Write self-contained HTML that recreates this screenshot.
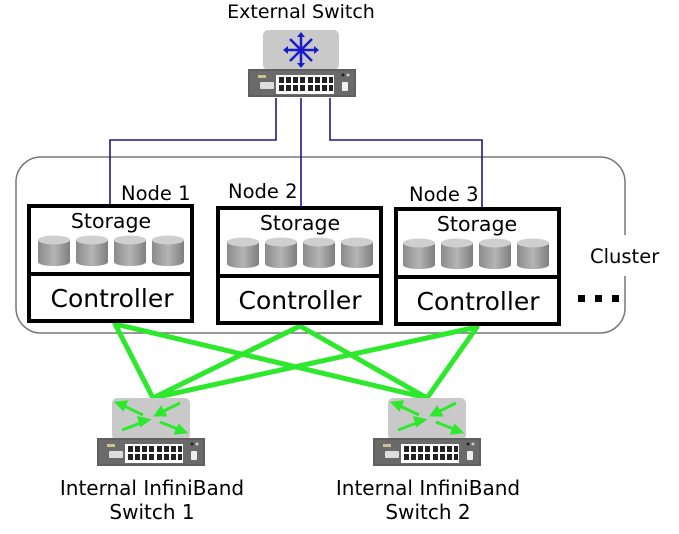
<!DOCTYPE html>
<html><head><style>
body{margin:0;background:#fff;}
svg text{font-family:"DejaVu Sans","Liberation Sans",sans-serif;fill:#000;}
</style></head><body>
<svg width="679" height="529" viewBox="0 0 679 529" xmlns="http://www.w3.org/2000/svg">
<defs>
<linearGradient id="cyl" x1="0" x2="1">
<stop offset="0" stop-color="#8a8a8a"/><stop offset="0.5" stop-color="#b5b5b5"/><stop offset="1" stop-color="#7e7e7e"/>
</linearGradient>
<g id="cy">
<path d="M0 5 V27 A16 4 0 0 0 32 27 V5 Z" fill="url(#cyl)"/>
<ellipse cx="16" cy="5" rx="16" ry="4.5" fill="#cfcfcf"/>
</g>
<g id="sw">
<rect x="0" y="0" width="108" height="28" fill="#5f5f5f"/>
<rect x="2" y="2" width="104" height="24" fill="#6a6a6a"/>
<rect x="10" y="6" width="8" height="3" fill="#c9c58a"/>
<rect x="12" y="13" width="14" height="7" fill="#ddd" rx="1"/>
<rect x="28" y="6" width="58" height="19" fill="#fff"/>
<g fill="#222">
<rect x="31" y="8" width="5" height="6"/><rect x="38" y="8" width="5" height="6"/><rect x="45" y="8" width="5" height="6"/><rect x="52" y="8" width="5" height="6"/>
<rect x="60" y="8" width="5" height="6"/><rect x="67" y="8" width="5" height="6"/><rect x="74" y="8" width="5" height="6"/><rect x="81" y="8" width="4" height="6"/>
<rect x="31" y="16" width="5" height="6"/><rect x="38" y="16" width="5" height="6"/><rect x="45" y="16" width="5" height="6"/><rect x="52" y="16" width="5" height="6"/>
<rect x="60" y="16" width="5" height="6"/><rect x="67" y="16" width="5" height="6"/><rect x="74" y="16" width="5" height="6"/><rect x="81" y="16" width="4" height="6"/>
</g>
<circle cx="95" cy="6" r="1.5" fill="#222"/><circle cx="100" cy="6" r="1.5" fill="#ccc"/>
<rect x="94" y="13" width="6" height="9" fill="#eee" rx="1"/>
</g>
</defs>

<path d="M625 235 V182 A25 25 0 0 0 600 157 H41 A25 25 0 0 0 16 182 V308 A25 25 0 0 0 41 333 H600 A25 25 0 0 0 625 308 V276" fill="none" stroke="#777" stroke-width="1.5"/>
<text x="590" y="263" font-size="19.5">Cluster</text>
<rect x="578" y="295" width="7" height="7" fill="#000"/><rect x="595" y="295" width="7" height="7" fill="#000"/><rect x="612" y="295" width="7" height="7" fill="#000"/>

<g stroke="#1a1a8c" stroke-width="1.6" fill="none">
<path d="M276 98 V140 H110 V206"/>
<path d="M301 98 V208"/>
<path d="M330 98 V140 H482 V208"/>
</g>

<rect x="263" y="30" width="76" height="40" rx="5" fill="#c9c9c9"/>
<g stroke="#1a1acc" stroke-width="2.5" fill="none">
<path d="M301 34 V66 M285 50 H317 M290 39 L312 61 M312 39 L290 61"/>
</g>
<g fill="#1a1acc"><path d="M301 32 l-4 5 h8z M301 68 l-4 -5 h8z M283 50 l5 -4 v8z M319 50 l-5 -4 v8z"/></g>
<use href="#sw" x="248" y="69"/>
<text x="301" y="18" font-size="19" text-anchor="middle">External Switch</text>

<g stroke="#2ee82e" stroke-width="5" fill="none" stroke-linecap="round">
<path d="M115 324 L153 398 M115 324 L427 398 M300 326 L153 398 M300 326 L427 398 M477 327 L153 398 M477 327 L427 398"/>
</g>

<g fill="#fff" stroke="#000" stroke-width="4">
<rect x="29" y="206" width="163" height="115"/><line x1="29" y1="274" x2="192" y2="274"/>
<rect x="218" y="208" width="163" height="115"/><line x1="218" y1="276" x2="381" y2="276"/>
<rect x="396" y="209" width="163" height="115"/><line x1="396" y1="277" x2="559" y2="277"/>
</g>
<text x="121" y="200" font-size="19.5">Node 1</text>
<text x="228" y="198" font-size="19.5">Node 2</text>
<text x="409" y="201" font-size="19.5">Node 3</text>
<text x="111" y="228" font-size="20.5" text-anchor="middle">Storage</text>
<text x="300" y="230" font-size="20.5" text-anchor="middle">Storage</text>
<text x="477" y="231" font-size="20.5" text-anchor="middle">Storage</text>
<text x="112" y="307" font-size="25" text-anchor="middle">Controller</text>
<text x="300" y="309" font-size="25" text-anchor="middle">Controller</text>
<text x="478" y="310" font-size="25" text-anchor="middle">Controller</text>
<use href="#cy" x="38" y="235"/><use href="#cy" x="76" y="235"/><use href="#cy" x="114" y="235"/><use href="#cy" x="152" y="235"/>
<use href="#cy" x="227" y="237"/><use href="#cy" x="265" y="237"/><use href="#cy" x="303" y="237"/><use href="#cy" x="341" y="237"/>
<use href="#cy" x="403" y="238"/><use href="#cy" x="441" y="238"/><use href="#cy" x="479" y="238"/><use href="#cy" x="517" y="238"/>

<g id="isw">
<rect x="112" y="398" width="78" height="42" rx="5" fill="#c9c9c9"/>
<g stroke="#2ee82e" stroke-width="3" fill="#2ee82e">
<line x1="143" y1="415" x2="122" y2="405"/><path d="M117 403 l9 -1 l-3 7z"/>
<line x1="158" y1="414" x2="180" y2="403"/><path d="M156 415 l9 0 l-4 -7z" />
<line x1="146" y1="421" x2="122" y2="430"/><path d="M148 420 l-9 -2 l2 7z"/>
<line x1="160" y1="422" x2="180" y2="430"/><path d="M185 432 l-9 1 l3 -7z"/>
</g>
<use href="#sw" x="97" y="438"/>
</g>
<use href="#isw" x="276" y="0"/>

<text x="152" y="495" font-size="20" text-anchor="middle">Internal InfiniBand</text>
<text x="152" y="519" font-size="20" text-anchor="middle">Switch 1</text>
<text x="428" y="495" font-size="20" text-anchor="middle">Internal InfiniBand</text>
<text x="428" y="519" font-size="20" text-anchor="middle">Switch 2</text>
</svg>
</body></html>
